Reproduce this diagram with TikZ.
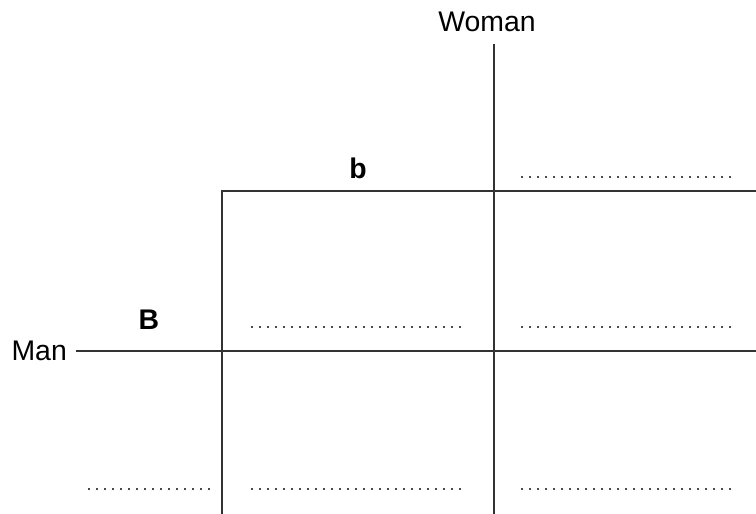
\documentclass[tikz,border=0pt]{standalone}
\usepackage{fontspec}
\setmainfont{Liberation Sans}
\tikzset{
  grid line/.style={line width=1.5bp, draw=black!80},
  blank/.style={line width=2.2bp, draw=black!70, dash pattern=on 2.2bp off 5.8bp},
  lbl/.style={font=\fontsize{28.5}{34}\selectfont, inner sep=2bp},
}
\begin{document}
\begin{tikzpicture}[x=1bp,y=-1bp]
    \useasboundingbox (0,0) rectangle (756,514);
    % labels
    \node[lbl] (woman) at (487,22) {Woman};
    \node[lbl, anchor=east, inner xsep=9bp] (man) at (76,351) {Man};
    \node[lbl] (allele b) at (358,168) {\bfseries b};
    \node[lbl] (allele B) at (149,320) {\bfseries B};
    % grid
    \coordinate (wtop) at (494,44);
    \coordinate (wbot) at (494,514);
    \coordinate (ltop) at (222,191);
    \coordinate (lbot) at (222,514);
    \coordinate (tright) at (756,191);
    \coordinate (mright) at (756,351);
    \draw[grid line] (wtop) -- (wbot);
    \draw[grid line] (lbot) -- (ltop) -- (tright);
    \draw[grid line] (man.east) -- (mright);
    % answer blanks
    \draw[blank] (521,177) -- (737,177);
    \foreach \y in {327,489} {
        \draw[blank] (251,\y) -- (467,\y);
        \draw[blank] (521,\y) -- (737,\y);
    }
    \draw[blank] (88,489) -- (210,489);
\end{tikzpicture}
\end{document}
